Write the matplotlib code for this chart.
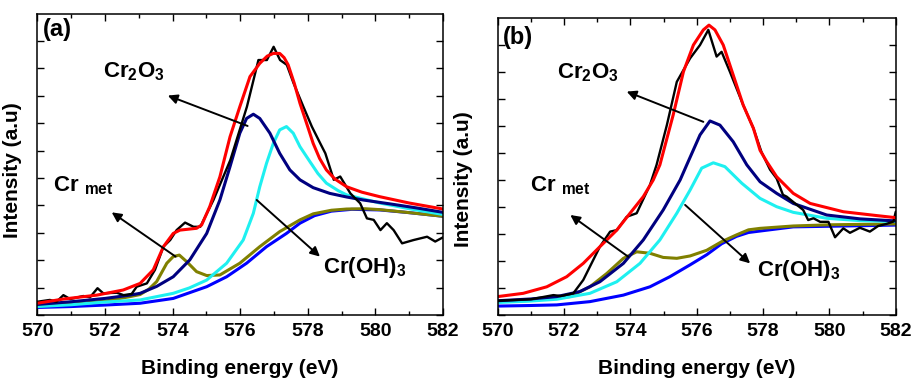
import matplotlib
matplotlib.use("Agg")
import matplotlib.pyplot as plt
import numpy as np

plt.rcParams["font.family"] = ["Liberation Sans", "DejaVu Sans"]
plt.rcParams["font.weight"] = "bold"
plt.rcParams["mathtext.default"] = "regular"

# ---- panel (a): Cr 2p3/2 spectrum and fitted components ----
a_raw_e = [570.0, 570.37, 570.57, 570.77, 570.97, 571.36, 571.56, 571.78, 571.95, 572.35,
           572.55, 572.79, 572.94, 573.24, 573.48, 573.73, 573.93, 574.12, 574.37, 574.62,
           574.82, 575.21, 575.71, 576.20, 576.54, 576.79, 576.99, 577.18, 577.38, 577.58,
           577.87, 578.12, 578.37, 578.52, 578.77, 578.96, 579.26, 579.55, 579.75, 579.95,
           580.15, 580.34, 580.54, 580.79, 581.13, 581.53, 581.77, 582.0]
a_raw_i = [4.4, 5.0, 4.4, 6.6, 5.3, 6.3, 5.9, 8.9, 7.2, 7.4,
           6.6, 7.0, 9.4, 10.5, 15.0, 22.7, 24.9, 28.2, 30.7, 29.3,
           29.3, 38.2, 51.5, 69.2, 84.7, 84.7, 89.1, 84.7, 83.1, 77.0,
           69.2, 62.6, 57.0, 53.7, 44.9, 46.0, 40.4, 37.1, 32.1, 31.6,
           28.2, 30.5, 28.2, 23.8, 24.9, 26.0, 24.4, 25.8]

a_env_e = [570.0, 570.77, 571.76, 572.54, 573.04, 573.43, 573.73, 574.02, 574.22, 574.71,
           574.86, 575.10, 575.40, 575.70, 575.99, 576.29, 576.58, 576.80, 576.98, 577.17,
           577.30, 577.42, 577.60, 577.77, 578.00, 578.16, 578.35, 578.55, 578.80, 579.15,
           579.60, 580.13, 581.00, 582.0]
a_env_i = [3.9, 5.3, 6.6, 8.3, 10.5, 15.0, 22.7, 27.1, 28.2, 28.8,
           29.9, 36.0, 45.9, 59.2, 69.2, 79.2, 83.6, 86.0, 86.9, 86.9,
           85.5, 83.1, 77.0, 70.3, 62.5, 57.0, 52.0, 48.2, 45.2, 42.6,
           40.8, 39.3, 37.2, 35.2]

a_ox_e = [570.0, 571.0, 572.0, 572.74, 573.04, 573.53, 574.02, 574.51, 575.01, 575.40,
          575.70, 575.99, 576.19, 576.39, 576.58, 576.88, 577.17, 577.47, 577.77, 578.16,
          578.65, 579.15, 579.64, 580.50, 581.20, 582.0]
a_ox_i = [3.5, 4.4, 5.5, 6.6, 7.2, 9.5, 12.7, 18.3, 27.1, 38.2,
          49.3, 60.4, 65.3, 66.7, 65.3, 60.4, 53.7, 48.2, 44.9, 42.3,
          40.4, 39.2, 38.2, 36.8, 35.6, 34.1]

a_hyd_e = [570.0, 571.0, 572.0, 573.04, 574.02, 574.50, 575.01, 575.60, 576.09, 576.39,
           576.58, 576.78, 576.98, 577.17, 577.37, 577.57, 577.77, 578.06, 578.30, 578.55,
           578.90, 579.15, 580.13, 581.0, 582.0]
a_hyd_i = [2.8, 3.4, 4.3, 5.0, 7.2, 9.0, 11.6, 17.2, 24.9, 33.8,
           42.6, 50.4, 57.0, 61.5, 62.6, 60.4, 55.9, 51.0, 47.0, 43.8,
           41.3, 39.9, 37.2, 35.3, 33.4]

a_met_e = [570.0, 571.0, 572.0, 572.74, 573.04, 573.30, 573.53, 573.83, 574.02, 574.20,
           574.42, 574.71, 575.01, 575.40, 575.99, 576.58, 577.17, 577.77, 578.16, 578.70,
           579.15, 579.70, 580.13, 581.0, 582.0]
a_met_i = [3.0, 3.6, 4.6, 6.1, 6.8, 8.6, 11.1, 17.2, 19.4, 19.9,
           17.7, 14.4, 13.1, 13.3, 17.2, 22.7, 27.7, 31.6, 33.6, 34.8,
           35.2, 35.3, 35.0, 34.0, 32.8]

a_bg_e = [570.0, 571.0, 572.0, 573.04, 574.02, 575.01, 575.60, 576.19, 576.78, 577.37,
          577.77, 578.20, 578.70, 579.30, 580.13, 581.0, 582.0]
a_bg_i = [2.5, 2.8, 3.3, 3.9, 5.5, 9.4, 12.7, 17.2, 22.7, 27.1,
          30.5, 33.0, 34.5, 35.1, 34.9, 34.0, 32.8]

# ---- panel (b) ----
b_raw_e = [570.0, 571.0, 571.68, 571.90, 572.28, 572.58, 573.08, 573.39, 573.59, 573.89,
           574.19, 574.59, 574.79, 575.10, 575.40, 575.80, 576.10, 576.35, 576.60, 576.75,
           577.00, 577.40, 577.71, 577.95, 578.21, 578.41, 578.60, 578.71, 579.21, 579.36,
           579.52, 579.72, 579.97, 580.17, 580.42, 580.62, 580.92, 581.22, 581.47, 581.72,
           581.93, 582.0]
b_raw_i = [4.8, 5.3, 6.7, 6.4, 7.3, 11.8, 23.0, 28.1, 28.6, 33.1,
           34.3, 43.8, 50.6, 64.0, 78.6, 86.5, 91.0, 96.1, 87.1, 88.7,
           82.0, 70.8, 62.9, 55.0, 49.0, 46.0, 40.5, 39.9, 35.4, 32.0,
           32.6, 31.4, 31.4, 26.2, 29.2, 27.7, 29.4, 28.1, 30.0, 30.7,
           31.5, 34.8]

b_env_e = [570.0, 570.77, 571.48, 572.08, 572.58, 573.08, 573.59, 573.99, 574.39, 574.69,
           574.89, 575.29, 575.60, 575.90, 576.20, 576.37, 576.55, 576.80, 577.10, 577.40,
           577.71, 577.91, 578.11, 578.41, 578.91, 579.42, 580.42, 581.43, 582.0]
b_env_i = [6.2, 7.3, 9.5, 12.9, 17.4, 23.0, 28.6, 34.3, 39.9, 45.5,
           50.6, 67.4, 82.0, 91.0, 96.1, 97.7, 96.1, 91.0, 80.9, 70.8,
           62.9, 55.5, 51.7, 46.6, 41.0, 37.6, 34.8, 33.5, 32.8]

b_ox_e = [570.0, 571.0, 571.78, 572.48, 573.08, 573.79, 574.39, 574.99, 575.50, 575.70,
          576.10, 576.40, 576.70, 577.10, 577.51, 577.91, 578.41, 578.91, 579.92, 580.92,
          582.0]
b_ox_i = [4.8, 5.4, 6.2, 7.9, 11.2, 17.4, 25.3, 35.4, 45.5, 50.6,
          60.7, 65.4, 64.0, 58.4, 50.6, 44.9, 41.0, 37.6, 33.7, 32.4,
          31.7]

b_hyd_e = [570.0, 571.0, 571.78, 572.78, 573.59, 574.29, 574.89, 575.40, 575.80, 576.15,
           576.50, 576.85, 577.36, 577.91, 578.41, 578.91, 579.92, 580.92, 582.0]
b_hyd_i = [4.2, 4.7, 5.3, 7.3, 11.2, 17.4, 25.3, 34.3, 42.1, 49.5,
           51.3, 50.0, 44.4, 39.3, 36.5, 34.6, 32.6, 31.8, 31.5]

b_met_e = [570.0, 571.0, 572.18, 572.78, 573.29, 573.79, 574.19, 574.59, 574.99, 575.40,
           575.80, 576.30, 576.75, 577.20, 577.56, 577.91, 578.91, 580.0, 582.0]
b_met_i = [4.5, 4.9, 6.2, 9.5, 14.0, 19.1, 21.3, 20.8, 19.4, 19.1,
           19.9, 21.8, 24.7, 27.0, 28.7, 29.2, 30.0, 30.4, 30.7]

b_bg_e = [570.0, 571.0, 571.78, 572.78, 573.79, 574.59, 575.19, 575.80, 576.30, 576.75,
          577.20, 577.56, 577.91, 578.91, 582.0]
b_bg_i = [3.0, 3.2, 3.4, 4.5, 6.7, 9.5, 12.9, 16.9, 20.3, 24.0,
          26.5, 27.8, 28.3, 29.7, 30.3]

fig = plt.figure(figsize=(9.13, 3.79), dpi=100)
ax_a = fig.add_axes([0.0409, 0.1689, 0.4443, 0.7942])
ax_b = fig.add_axes([0.5451, 0.1689, 0.4360, 0.7828])


def draw_panel(ax, raw, env, ox, hyd, met, bg):
    kw = dict(solid_joinstyle="round", solid_capstyle="round")
    ax.plot(*bg, color="#0000FF", lw=2.2, **kw)
    ax.plot(*met, color="#808000", lw=2.2, **kw)
    ax.plot(*hyd, color="#1EF0F0", lw=2.2, **kw)
    ax.plot(*ox, color="#00007F", lw=2.2, **kw)
    ax.plot(*raw, color="black", lw=1.7, **kw)
    ax.plot(*env, color="#FF0000", lw=2.2, **kw)

    ax.set_xlim(570, 582)
    ax.set_ylim(0, 100)
    ax.set_xticks(np.arange(570, 583, 2))
    ax.set_xticks(np.arange(571, 582, 2), minor=True)
    ax.set_yticks(np.arange(0, 100, 9.1))
    ax.set_yticklabels([])
    ax.tick_params(which="both", direction="in", top=True, right=True, width=1)
    ax.tick_params(which="major", length=5, labelsize=14, pad=6)
    ax.tick_params(which="minor", length=3)
    for lab in ax.get_xticklabels():
        lab.set_fontweight("bold")
    for sp in ax.spines.values():
        sp.set_linewidth(1.1)
    ax.set_xlabel("Binding energy (eV)", fontsize=15, fontweight="bold")
    ax.set_ylabel("Intensity (a.u)", fontsize=15, fontweight="bold")


def arrow(ax, tail, head):
    ax.annotate("", xy=head, xytext=tail,
                arrowprops=dict(arrowstyle="-|>", lw=1.4, color="black",
                                mutation_scale=14, shrinkA=0, shrinkB=0))


draw_panel(ax_a, (a_raw_e, a_raw_i), (a_env_e, a_env_i), (a_ox_e, a_ox_i),
           (a_hyd_e, a_hyd_i), (a_met_e, a_met_i), (a_bg_e, a_bg_i))
draw_panel(ax_b, (b_raw_e, b_raw_i), (b_env_e, b_env_i), (b_ox_e, b_ox_i),
           (b_hyd_e, b_hyd_i), (b_met_e, b_met_i), (b_bg_e, b_bg_i))

ax_a.xaxis.set_label_coords(0.499, -0.145)
ax_a.yaxis.set_label_coords(-0.039, 0.48)
ax_b.xaxis.set_label_coords(0.5, -0.15)
ax_b.yaxis.set_label_coords(-0.061, 0.458)

lbl = dict(fontsize=16, fontweight="bold")
ax_a.text(570.17, 95.0, "(a)", fontsize=17, fontweight="bold", va="center")
ax_a.text(571.94, 78.9, r"Cr$_{2}$O$_{3}$", va="baseline", **lbl)
ax_a.text(570.46, 41.0, r"Cr $_{met}$", va="baseline", **lbl)
ax_a.text(578.45, 14.0, r"Cr(OH)$_{3}$", va="baseline", **lbl)
arrow(ax_a, (576.22, 62.8), (573.86, 72.9))
arrow(ax_a, (574.09, 19.4), (572.20, 34.1))
arrow(ax_a, (576.49, 38.2), (578.36, 19.4))

ax_b.text(570.16, 93.4, "(b)", fontsize=17, fontweight="bold", va="center")
ax_b.text(571.79, 79.8, r"Cr$_{2}$O$_{3}$", va="baseline", **lbl)
ax_b.text(570.98, 41.6, r"Cr $_{met}$", va="baseline", **lbl)
ax_b.text(577.83, 13.1, r"Cr(OH)$_{3}$", va="baseline", **lbl)
arrow(ax_b, (576.20, 65.1), (573.89, 75.3))
arrow(ax_b, (573.94, 19.6), (572.19, 33.7))
arrow(ax_b, (575.65, 37.1), (577.61, 17.4))

fig.savefig("out.png", dpi=100)
